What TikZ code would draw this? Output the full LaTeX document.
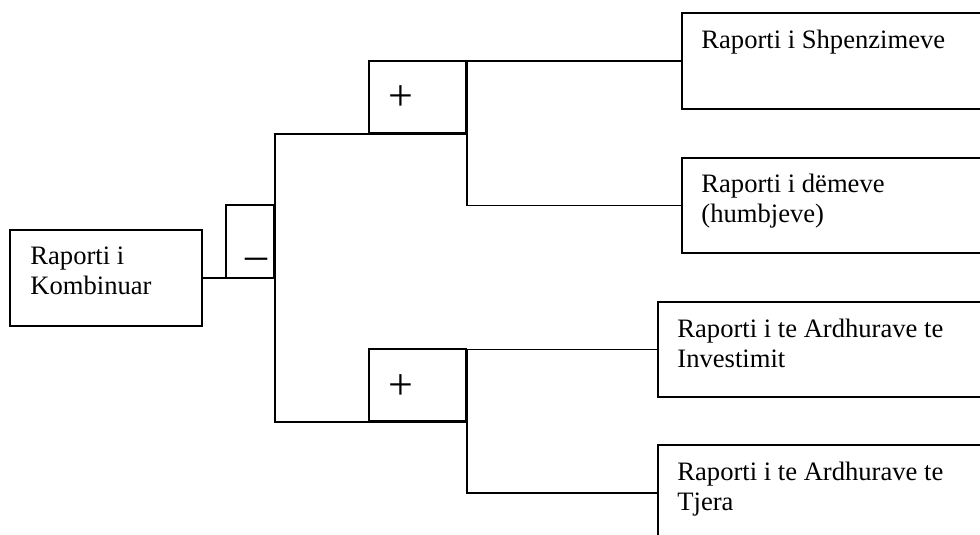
\documentclass[tikz,border=0pt]{standalone}
\usepackage{fontspec}
\setmainfont{Liberation Serif}
\begin{document}
\begin{tikzpicture}[x=0.5pt,y=-0.5pt,
  box/.style={draw, line width=0.9pt, inner sep=0pt, anchor=north west},
  txt/.style={inner sep=0pt, align=left, anchor=base west, font=\fontsize{13.3}{15}\selectfont},
  sign/.style={inner sep=0pt, anchor=base, font=\fontsize{22}{22}\selectfont},
  conn/.style={line width=0.9pt}]
\useasboundingbox (0,0) rectangle (980,535);
\clip (0,0) rectangle (980,535);
% boxes
\node[box, minimum width=96pt, minimum height=48pt] (comb) at (9,229) {};
\node[box, minimum width=24pt, minimum height=36.5pt] (mbox) at (225,204) {};
\node[box, minimum width=48.5pt, minimum height=36pt] (p1) at (368,60) {};
\node[box, minimum width=48.5pt, minimum height=36pt] (p2) at (368,348) {};
\node[box, minimum width=154.5pt, minimum height=48pt] (r1) at (681,12) {};
\node[box, minimum width=154.5pt, minimum height=47.5pt] (r2) at (681,157) {};
\node[box, minimum width=166.5pt, minimum height=47.5pt] (r3) at (657,301) {};
\node[box, minimum width=166.5pt, minimum height=48pt] (r4) at (657,444) {};
% texts (base anchor = baseline of the last line)
\node[txt] (tcomb) at (30,294) {Raporti i\\Kombinuar};
\node[txt] (t1) at (701,49) {Raporti i Shpenzimeve};
\node[txt] (t2) at (701,222) {Raporti i dëmeve\\(humbjeve)};
\node[txt] (t3) at (677,367) {Raporti i te Ardhurave te\\Investimit};
\node[txt] (t4) at (677,510) {Raporti i te Ardhurave te\\Tjera};
\node[sign] (sm) at (256,269) {–};
\node[sign] (sp1) at (401,111) {+};
\node[sign] (sp2) at (401,399) {+};
% connectors
\draw[conn] (comb.east) -- (comb.east -| mbox.east);
\draw[conn] (p1.south east) -- (p1.south east -| mbox.east) -- (p2.south east -| mbox.east) -- (p2.south east);
\draw[conn] (r1.west) -| (p1.east) |- (r2.west);
\draw[conn] (r3.west) -| (p2.east) |- (r4.west);
\end{tikzpicture}
\end{document}
